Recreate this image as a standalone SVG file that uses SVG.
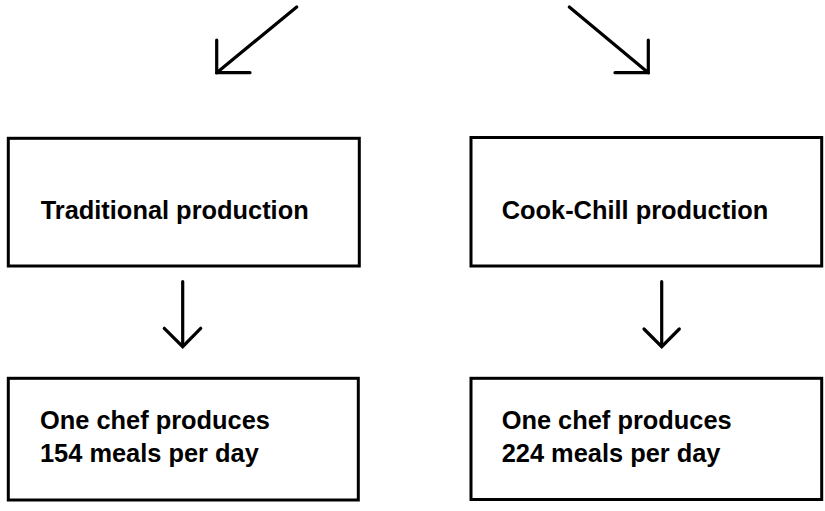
<svg xmlns="http://www.w3.org/2000/svg" width="825" height="511" viewBox="0 0 825 511">
  <style>
    .box { fill: #ffffff; stroke: #000000; stroke-width: 3; }
    .lbl { font-family: "Liberation Sans", Arial, sans-serif; font-size: 25.4px; font-weight: bold; fill: #000000; }
    .arrow { fill: none; stroke: #000000; stroke-width: 3.2; stroke-linecap: round; stroke-linejoin: miter; }
  </style>
  <rect width="825" height="511" fill="#ffffff"/>

  <!-- connectors -->
  <g id="connectors">
    <path class="arrow" d="M296.7,7 L216.7,72.7"/>
    <path class="arrow" d="M216.7,40 V72.7 H250"/>
    <path class="arrow" d="M569.3,7 L648.3,72.7"/>
    <path class="arrow" d="M615,72.7 H648.3 V40"/>
    <path class="arrow" d="M182.7,281.7 V346"/>
    <path class="arrow" d="M164.3,328.3 L182.7,346.7 L200.7,328.3"/>
    <path class="arrow" d="M661.7,281.7 V346"/>
    <path class="arrow" d="M644,329 L661.7,346.7 L679.3,329"/>
  </g>

  <g id="traditional">
    <rect class="box" x="8.3" y="138.3" width="351" height="127.7"/>
    <text class="lbl" x="40.7" y="218.5">Traditional production</text>
  </g>

  <g id="cook-chill">
    <rect class="box" x="471" y="137.5" width="350.7" height="128.5"/>
    <text class="lbl" x="501.7" y="218.5">Cook-Chill production</text>
  </g>

  <g id="traditional-output">
    <rect class="box" x="8.3" y="378.3" width="350" height="121.7"/>
    <text class="lbl" x="40" y="429">One chef produces</text>
    <text class="lbl" x="40" y="462.3">154 meals per day</text>
  </g>

  <g id="cook-chill-output">
    <rect class="box" x="471" y="378.3" width="350.7" height="121.2"/>
    <text class="lbl" x="501.7" y="429">One chef produces</text>
    <text class="lbl" x="501.7" y="462.3">224 meals per day</text>
  </g>
</svg>
